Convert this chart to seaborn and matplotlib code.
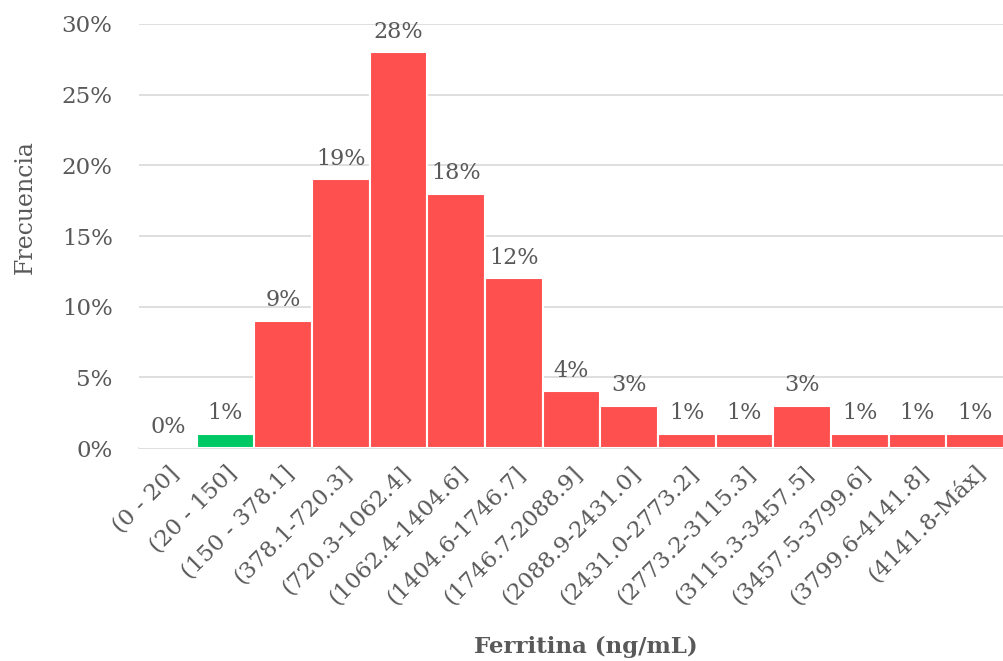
import matplotlib
matplotlib.use("Agg")
import matplotlib.pyplot as plt
import seaborn as sns
import pandas as pd
from matplotlib.ticker import PercentFormatter

# Ferritin class intervals and their relative frequency (%)
categories = ["(0 - 20]", "(20 - 150]", "(150 - 378.1]", "(378.1-720.3]",
              "(720.3-1062.4]", "(1062.4-1404.6]", "(1404.6-1746.7]",
              "(1746.7-2088.9]", "(2088.9-2431.0]", "(2431.0-2773.2]",
              "(2773.2-3115.3]", "(3115.3-3457.5]", "(3457.5-3799.6]",
              "(3799.6-4141.8]", "(4141.8-Máx]"]
frecuencia = [0, 1, 9, 19, 28, 18, 12, 4, 3, 1, 1, 3, 1, 1, 1]

RED = "#FF5050"
GREEN = "#00C864"
bar_colors = [RED, GREEN] + [RED] * (len(categories) - 2)
TEXT = "#595959"
GRID = "#D9D9D9"

df = pd.DataFrame({"Intervalo": categories, "Frecuencia": frecuencia})

sns.set_theme(style="white")
plt.rcParams["font.family"] = ["DejaVu Serif"]

fig = plt.figure(figsize=(10.04, 6.61), dpi=100)
ax = fig.add_axes([0.1384, 0.3222, 0.8616, 0.6415])

sns.barplot(data=df, x="Intervalo", y="Frecuencia", hue="Intervalo",
            palette=bar_colors, legend=False, width=1.0, saturation=1,
            edgecolor="white", linewidth=1.5, ax=ax, zorder=3)

for cont in ax.containers:
    ax.bar_label(cont, fmt="%.0f%%", padding=7, fontsize=16, color=TEXT)

ax.set_ylim(0, 30)
ax.set_xlim(-0.5, len(categories) - 0.5)
ax.set_yticks(range(0, 31, 5))
ax.yaxis.set_major_formatter(PercentFormatter(100, decimals=0))
ax.grid(axis="y", color=GRID, linewidth=1.2, zorder=0)
ax.set_axisbelow(True)

for side in ("top", "right", "left"):
    ax.spines[side].set_visible(False)
ax.spines["bottom"].set_color(GRID)
ax.spines["bottom"].set_linewidth(1.2)

ax.tick_params(axis="both", length=0, labelsize=16.5, colors=TEXT)
ax.tick_params(axis="y", pad=19)
ax.tick_params(axis="x", pad=10)
plt.setp(ax.get_xticklabels(), rotation=45, ha="right", rotation_mode="anchor")

ax.set_xlabel("Ferritina (ng/mL)", fontsize=16.5, fontweight="bold", color=TEXT)
ax.xaxis.set_label_coords(0.516, -0.443)
ax.set_ylabel("Frecuencia", fontsize=17, color=TEXT)
ax.yaxis.set_label_coords(-0.118, 0.568)

fig.savefig("out.png", dpi=100, facecolor="white")
